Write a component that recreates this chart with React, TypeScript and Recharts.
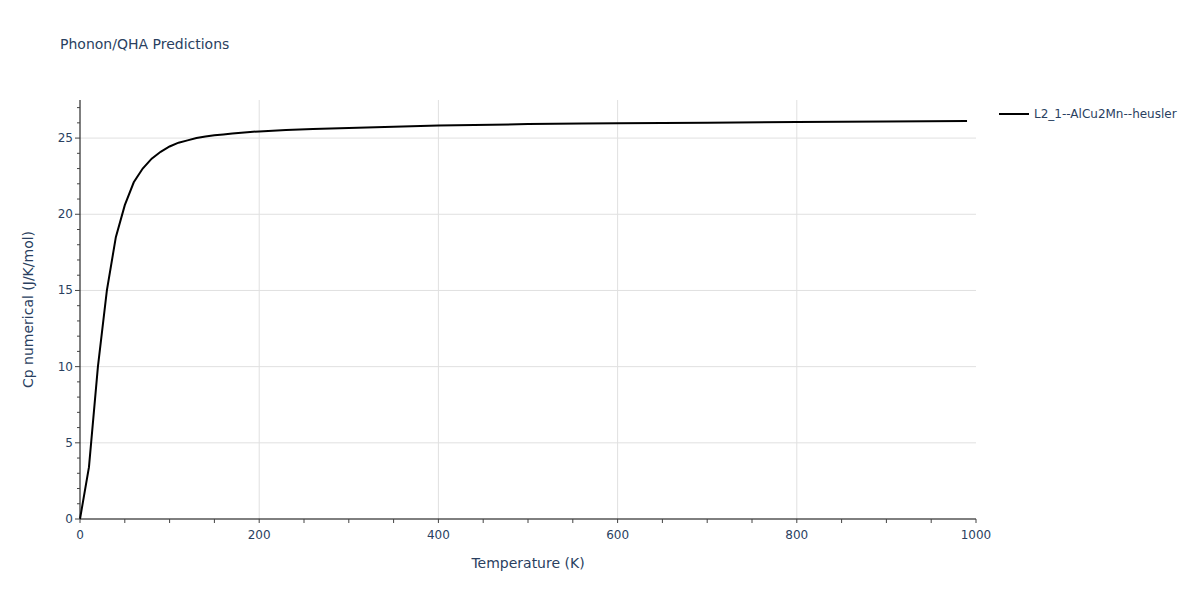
import React from 'react';
import { LineChart, Line, XAxis, YAxis, CartesianGrid } from 'recharts';

// temperature (K) and heat capacity
const temperatures = [
  0, 10, 20, 30, 40, 50, 60, 70, 80, 90, 100, 110, 120, 130, 140, 150, 160, 170, 180, 190, 200,
  230, 260, 300, 350, 400, 460, 500, 560, 600, 700, 800, 900, 990,
];
const cpValues = [
  0, 3.4, 10.0, 15.0, 18.5, 20.6, 22.1, 23.0, 23.65, 24.1, 24.45, 24.7, 24.85, 25.0, 25.1, 25.18,
  25.24, 25.3, 25.35, 25.4, 25.44, 25.53, 25.6, 25.67, 25.75, 25.82, 25.88, 25.92, 25.96, 25.98,
  26.01, 26.05, 26.09, 26.12,
];
const seriesName = 'L2_1--AlCu2Mn--heusler';

const xTicks = Array.from({ length: 21 }, (_, i) => i * 50);
const yTicks = Array.from({ length: 28 }, (_, i) => i);
const xGrid = [200, 400, 600, 800];
const yGrid = [5, 10, 15, 20, 25];

const data = temperatures.map((t, i) => ({ t, cp: cpValues[i] }));

const FONT = '"DejaVu Sans", verdana, arial, sans-serif';
const TEXT = '#2a3f5f';

const XTick = (props: any) => {
  const { x, y, payload } = props;
  const major = payload.value % 200 === 0;
  return (
    <g>
      <line x1={x} x2={x} y1={y} y2={y + 4} stroke="#444" strokeWidth={1} />
      {major && (
        <text x={x} y={y + 20} textAnchor="middle" fontSize={12} fill={TEXT} fontFamily={FONT}>
          {payload.value}
        </text>
      )}
    </g>
  );
};

const YTick = (props: any) => {
  const { x, y, payload } = props;
  const major = payload.value % 5 === 0;
  return (
    <g>
      <line x1={x - (major ? 5 : 3)} x2={x} y1={y} y2={y} stroke="#444" strokeWidth={1} />
      {major && (
        <text x={x - 7} y={y + 4} textAnchor="end" fontSize={12} fill={TEXT} fontFamily={FONT}>
          {payload.value}
        </text>
      )}
    </g>
  );
};

export default function App() {
  return (
    <div style={{ position: 'absolute', left: 0, top: 0, width: 1200, height: 600, background: '#fff', fontFamily: FONT }}>
      <div style={{ position: 'absolute', left: 60, top: 36, fontSize: 14, color: TEXT }}>Phonon/QHA Predictions</div>
      <LineChart width={1200} height={600} data={data} margin={{ top: 100, right: 224, bottom: 0, left: 0 }}>
        <CartesianGrid stroke="#e0e0e0" horizontalValues={yGrid} verticalValues={xGrid} />
        <XAxis
          dataKey="t"
          type="number"
          domain={[0, 1000]}
          ticks={xTicks}
          interval={0}
          height={81}
          tickSize={0}
          tickMargin={0}
          tickLine={false}
          axisLine={{ stroke: '#000' }}
          tick={<XTick />}
          label={{ value: 'Temperature (K)', position: 'insideBottom', offset: 32, fill: TEXT, fontSize: 14, fontFamily: FONT }}
        />
        <YAxis
          type="number"
          domain={[0, 27.5]}
          ticks={yTicks}
          interval={0}
          width={80}
          tickSize={0}
          tickMargin={0}
          tickLine={false}
          axisLine={{ stroke: '#000' }}
          tick={<YTick />}
          label={{ value: 'Cp numerical (J/K/mol)', angle: -90, position: 'insideLeft', offset: 28, fill: TEXT, fontSize: 14, fontFamily: FONT, style: { textAnchor: 'middle' } }}
        />
        <Line type="linear" dataKey="cp" name={seriesName} stroke="#000" strokeWidth={2} dot={false} isAnimationActive={false} />
      </LineChart>
      <div style={{ position: 'absolute', left: 999, top: 106, display: 'flex', alignItems: 'center', fontSize: 12, color: TEXT }}>
        <svg width={30} height={16} style={{ marginRight: 5 }}>
          <line x1={0} x2={30} y1={8} y2={8} stroke="#000" strokeWidth={2} />
        </svg>
        {seriesName}
      </div>
    </div>
  );
}
